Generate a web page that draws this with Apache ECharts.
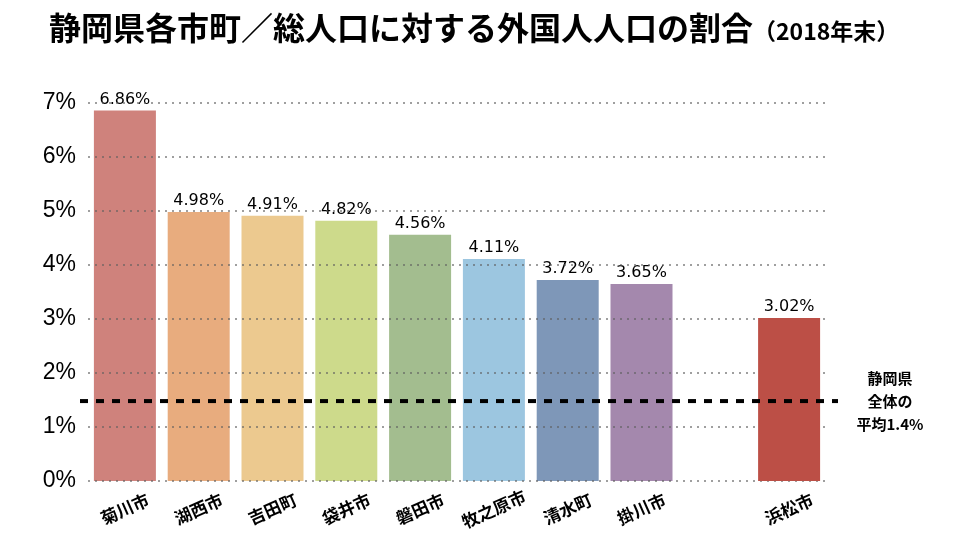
<!DOCTYPE html>
<html>
<head>
<meta charset="utf-8">
<script src="https://cdn.jsdelivr.net/npm/echarts@6/dist/echarts.min.js"></script>
<style>
html,body{margin:0;padding:0;background:#fff;}
#chart{width:960px;height:540px;}
</style>
</head>
<body>
<div id="chart"></div>
<script>
const categories = ['菊川市','湖西市','吉田町','袋井市','磐田市','牧之原市','清水町','掛川市','','浜松市'];
const townValues = [6.86, 4.98, 4.91, 4.82, 4.56, 4.11, 3.72, 3.65, null, null];
const hamamatsuValues = [null, null, null, null, null, null, null, null, null, 3.02];
const barColors = ['#CF827C','#E8AC7E','#ECC98F','#CDDA8B','#A3BD8F','#9CC6E0','#7E97B8','#A488AD','#ffffff','#BC4F46'];
const prefAverageLine = [[0, 1.48], [1, 1.48]];
const yTicks = [0, 1, 2, 3, 4, 5, 6, 7];

const NUMFONT = '"Liberation Sans", "Noto Sans CJK JP", sans-serif';
const VALFONT = '"DejaVu Sans", "Noto Sans CJK JP", sans-serif';
const CJKFONT = '"Noto Sans CJK JP", "Liberation Sans", sans-serif';

const chart = echarts.init(document.getElementById('chart'), null, {renderer: 'canvas'});

function toData(vals) {
  return vals.map((v, i) => v == null ? '-' : {value: v, itemStyle: {color: barColors[i]}});
}

const labelCfg = {
  show: true,
  position: 'top',
  distance: 3,
  color: '#000',
  fontSize: 16,
  fontFamily: VALFONT,
  formatter: p => p.value.toFixed(2) + '%'
};

const option = {
  backgroundColor: '#fff',
  animation: false,
  title: {
    text: '静岡県各市町／総人口に対する外国人人口の割合{s|（2018年末）}',
    left: 44,
    top: 7,
    textStyle: {
      fontFamily: CJKFONT,
      fontSize: 32,
      fontWeight: 'bold',
      color: '#000',
      rich: {
        s: {fontFamily: CJKFONT, fontSize: 23, fontWeight: 'bold', color: '#000', padding: [6, 0, 0, 0]}
      }
    }
  },
  grid: [
    {left: 88, right: 134, top: 103, bottom: 59},
    {left: 80, right: 122, top: 103, bottom: 59}
  ],
  xAxis: [
    {
      type: 'category',
      gridIndex: 0,
      data: categories,
      axisLine: {show: false},
      axisTick: {show: false},
      axisLabel: {
        interval: 0,
        rotate: 24,
        align: 'center',
        verticalAlign: 'middle',
        margin: 28,
        fontSize: 17,
        fontWeight: 'bold',
        color: '#000',
        fontFamily: CJKFONT
      }
    },
    {type: 'value', gridIndex: 1, min: 0, max: 1, show: false}
  ],
  yAxis: [
    {
      type: 'value',
      gridIndex: 0,
      min: yTicks[0],
      max: yTicks[yTicks.length - 1],
      interval: 1,
      z: 3,
      axisLine: {show: false},
      axisTick: {show: false},
      axisLabel: {
        formatter: '{value}%',
        fontSize: 23,
        color: '#000',
        margin: 12,
        fontFamily: NUMFONT
      },
      splitLine: {
        show: true,
        lineStyle: {color: 'rgba(95,95,95,0.6)', width: 2, type: [2, 5]}
      }
    },
    {type: 'value', gridIndex: 1, min: 0, max: 7, show: false}
  ],
  series: [
    {
      type: 'bar',
      xAxisIndex: 0,
      yAxisIndex: 0,
      z: 2,
      barWidth: 62,
      barGap: '-100%',
      data: toData(townValues),
      label: labelCfg
    },
    {
      type: 'bar',
      xAxisIndex: 0,
      yAxisIndex: 0,
      z: 5,
      barWidth: 62,
      barGap: '-100%',
      data: toData(hamamatsuValues),
      label: labelCfg
    },
    {
      type: 'line',
      xAxisIndex: 1,
      yAxisIndex: 1,
      z: 6,
      data: prefAverageLine,
      symbol: 'none',
      silent: true,
      lineStyle: {color: '#000', width: 4, type: [8, 8]},
      endLabel: {
        show: true,
        formatter: '静岡県\n全体の\n平均1.4%',
        align: 'center',
        distance: 52,
        lineHeight: 23,
        fontSize: 15,
        fontWeight: 'bold',
        color: '#000',
        fontFamily: CJKFONT
      }
    }
  ]
};

chart.setOption(option);
</script>
</body>
</html>
